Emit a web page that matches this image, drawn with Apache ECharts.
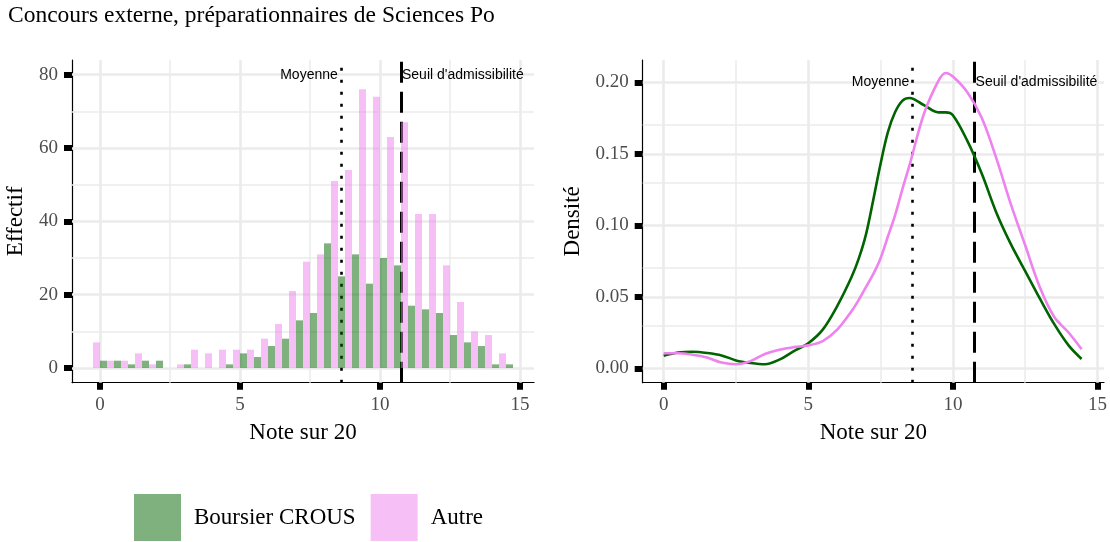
<!DOCTYPE html>
<html>
<head>
<meta charset="utf-8">
<script src="https://cdn.jsdelivr.net/npm/echarts@6/dist/echarts.min.js"></script>
<style>
html,body{margin:0;padding:0;background:#fff;}
#c{width:1110px;height:542px;}
</style>
</head>
<body>
<div id="c"></div>
<script>
// ---- data ----
const binCenters = [0,0.5,1,1.5,2,2.5,3,3.5,4,4.5,5,5.5,6,6.5,7,7.5,8,8.5,9,9.5,10,10.5,11,11.5,12,12.5,13,13.5,14,14.5];
const countBoursier = [2,2,1,2,2,0,1,0,0,1,4,3,6,8,13,15,34,25,31,23,30,28,17,16,15,9,7,6,1,1];
const countAutre    = [7,2,2,4,1,0,1,5,4,5,5,5,8,12,21,29,31,51,54,76,74,63,67,42,42,28,18,10,9,4];
const densX = [0,0.5,1,1.5,2,2.5,3,3.5,4,4.5,5,5.5,6,6.5,6.75,7,7.25,7.5,7.75,8,8.25,8.5,9,9.5,9.75,10,10.5,11,11.5,12,12.5,13,13.5,14,14.45];
const densBoursier = [0.0087,0.011,0.0115,0.0107,0.009,0.0055,0.0037,0.0028,0.006,0.012,0.0175,0.027,0.0435,0.064,0.077,0.094,0.118,0.143,0.165,0.179,0.187,0.189,0.184,0.179,0.179,0.177,0.159,0.136,0.109,0.087,0.068,0.049,0.031,0.016,0.0065];
const densAutre    = [0.0105,0.0105,0.0095,0.0075,0.004,0.0028,0.005,0.010,0.013,0.0148,0.016,0.019,0.027,0.040,0.048,0.057,0.066,0.077,0.092,0.107,0.125,0.142,0.178,0.201,0.2065,0.204,0.193,0.175,0.147,0.115,0.086,0.057,0.036,0.025,0.0133];
const moyenne = 8.6;
const seuil = 10.75;
const xTicks = [0,5,10,15];
const xMinor = [2.5,7.5,12.5];
const yTicksCount = [0,20,40,60,80];
const yMinorCount = [10,30,50,70];
const yTicksDens = [0,0.05,0.1,0.15,0.2];
const yMinorDens = [0.025,0.075,0.125,0.175];
const binWidth = 0.5;

// ---- style ----
const SERIF = '"Liberation Serif", "DejaVu Serif", serif';
const SANS = '"Liberation Sans", Arial, sans-serif';
const GREEN = 'rgba(0,100,0,0.5)';
const PINK = 'rgba(238,130,238,0.5)';
const GRID_COL = '#EBEBEB';

const chart = echarts.init(document.getElementById('c'), null, {renderer:'canvas'});

function xAxisDef(gi, min, max, fmt){
  return {
    type:'value', gridIndex:gi, min:min, max:max,
    name:'Note sur 20', nameLocation:'middle', nameGap:39,
    nameTextStyle:{fontFamily:SERIF, fontSize:23, color:'#000'},
    axisLine:{show:true, onZero:false, lineStyle:{color:'#000', width:1.2}},
    axisTick:{show:true, customValues:xTicks, length:7, lineStyle:{color:'#000', width:6}},
    axisLabel:{show:true, customValues:xTicks, margin:13, fontFamily:SERIF, fontSize:19, color:'#4D4D4D', formatter:fmt},
    splitLine:{show:false}, minorSplitLine:{show:false}
  };
}
function yAxisDef(gi, min, max, ticks, name, gap, fmt){
  return {
    type:'value', gridIndex:gi, min:min, max:max,
    name:name, nameLocation:'middle', nameGap:gap,
    nameTextStyle:{fontFamily:SERIF, fontSize:23, color:'#000'},
    axisLine:{show:true, onZero:false, lineStyle:{color:'#000', width:1.2}},
    axisTick:{show:true, customValues:ticks, length:8, lineStyle:{color:'#000', width:6}},
    axisLabel:{show:true, customValues:ticks, margin:14, fontFamily:SERIF, fontSize:19, color:'#4D4D4D', formatter:fmt},
    splitLine:{show:false}
  };
}

function gridSeries(gi, xMaj, xMin, yMaj, yMin){
  const data = [];
  xMin.forEach(v=>data.push({xAxis:v, lineStyle:{width:1.5, color:GRID_COL, type:'solid'}}));
  yMin.forEach(v=>data.push({yAxis:v, lineStyle:{width:1.5, color:GRID_COL, type:'solid'}}));
  xMaj.forEach(v=>data.push({xAxis:v, lineStyle:{width:2.6, color:GRID_COL, type:'solid'}}));
  yMaj.forEach(v=>data.push({yAxis:v, lineStyle:{width:2.6, color:GRID_COL, type:'solid'}}));
  return {
    type:'line', xAxisIndex:gi, yAxisIndex:gi, data:[], z:0, silent:true,
    markLine:{silent:true, symbol:['none','none'], label:{show:false}, animation:false, data:data}
  };
}

function refLines(gi){
  return {
    type:'line', xAxisIndex:gi, yAxisIndex:gi, data:[], z:10, silent:true,
    markLine:{silent:true, symbol:['none','none'], label:{show:false}, animation:false,
      data:[
        {xAxis:moyenne, lineStyle:{color:'#000', width:2.6, type:[3,9], cap:'butt'}},
        {xAxis:seuil, lineStyle:{color:'#000', width:3, type:[21,9], cap:'butt'}}
      ]}
  };
}

function annotSeries(gi, yv){
  return {
    type:'custom', xAxisIndex:gi, yAxisIndex:gi, z:11, silent:true,
    data:[[moyenne, yv, 0],[seuil, yv, 1]],
    renderItem:function(params, api){
      const p = api.coord([api.value(0), api.value(1)]);
      const right = api.value(2) === 0;
      return {type:'text', style:{
        text: right ? 'Moyenne' : "Seuil d'admissibilité",
        x: right ? p[0]-3 : p[0]+1, y:p[1],
        align: right ? 'right':'left', verticalAlign:'middle',
        font:'14px ' + SANS, fill:'#000'
      }};
    }
  };
}

function barSeries(name, counts, color, offStart){
  return {
    name:name, type:'custom', xAxisIndex:0, yAxisIndex:0, z:5,
    itemStyle:{color:color},
    data: binCenters.map((c,i)=>[c, counts[i]]),
    renderItem:function(params, api){
      const c = api.value(0), v = api.value(1);
      const p0 = api.coord([c + offStart*binWidth, v]);
      const p1 = api.coord([c + (offStart+0.5)*binWidth, 0]);
      return {type:'rect', shape:{x:p0[0], y:p0[1], width:p1[0]-p0[0], height:p1[1]-p0[1]},
        style:{fill:color}};
    }
  };
}

const option = {
  animation:false,
  backgroundColor:'#fff',
  title:{text:'Concours externe, préparationnaires de Sciences Po', left:8, top:4, padding:0,
    textStyle:{fontFamily:SERIF, fontSize:23.5, fontWeight:'normal', color:'#000'}},
  legend:{
    data:['Boursier CROUS','Autre'], left:129, top:489, orient:'horizontal',
    icon:'rect', itemWidth:47, itemHeight:47, itemGap:15,
    textStyle:{fontFamily:SERIF, fontSize:23, color:'#000', padding:[0,0,0,8]},
    selectedMode:false
  },
  grid:[
    {left:72, top:60, width:462, height:322.7, containLabel:false},
    {left:642.7, top:60, width:461.4, height:322.7, containLabel:false}
  ],
  xAxis:[
    xAxisDef(0, -1, 15.5, v=>String(v)),
    xAxisDef(1, -0.725, 15.225, v=>String(v))
  ],
  yAxis:[
    yAxisDef(0, -4, 84, yTicksCount, 'Effectif', 45, v=>String(v)),
    yAxisDef(1, -0.0101, 0.2156, yTicksDens, 'Densité', 58, v=>v.toFixed(2))
  ],
  series:[
    gridSeries(0, xTicks, xMinor, yTicksCount, yMinorCount),
    gridSeries(1, xTicks, xMinor, yTicksDens, yMinorDens),
    barSeries('Autre', countAutre, PINK, -0.5),
    barSeries('Boursier CROUS', countBoursier, GREEN, 0),
    {type:'line', name:'dens_b', xAxisIndex:1, yAxisIndex:1, z:6, showSymbol:false, smooth:0.35,
      data:densX.map((x,i)=>[x, densBoursier[i]]), lineStyle:{color:'#006400', width:2.6}, itemStyle:{color:'#006400'}},
    {type:'line', name:'dens_a', xAxisIndex:1, yAxisIndex:1, z:6, showSymbol:false, smooth:0.35,
      data:densX.map((x,i)=>[x, densAutre[i]]), lineStyle:{color:'#EE82EE', width:2.6}, itemStyle:{color:'#EE82EE'}},
    refLines(0), refLines(1),
    annotSeries(0, 80), annotSeries(1, 0.2)
  ]
};
chart.setOption(option);
</script>
</body>
</html>
